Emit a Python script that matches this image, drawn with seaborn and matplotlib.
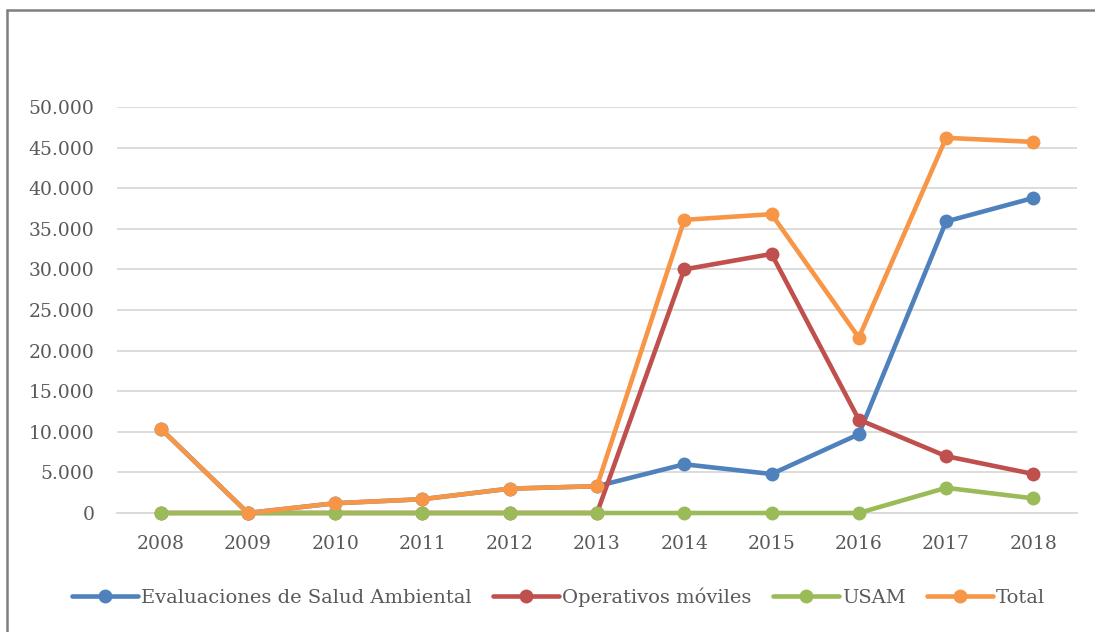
import pandas as pd
import numpy as np
import matplotlib
matplotlib.use("Agg")
import matplotlib.pyplot as plt
import seaborn as sns
from matplotlib.lines import Line2D
from matplotlib.ticker import FuncFormatter

# data
years = ['2008', '2009', '2010', '2011', '2012', '2013',
         '2014', '2015', '2016', '2017', '2018']
evaluaciones = [10400, 0, 1200, 1700, 3000, 3300, 6000, 4800, 9700, 35900, 38800]
operativos = [0, 0, 0, 0, 0, 0, 30000, 31900, 11500, 7000, 4800]
usam = [0, 0, 0, 0, 0, 0, 0, 0, 0, 3100, 1800]
total = [10400, 0, 1200, 1700, 3000, 3300, 36100, 36800, 21600, 46200, 45700]

series_names = ['Evaluaciones de Salud Ambiental', 'Operativos móviles', 'USAM', 'Total']
colors = ['#4F81BD', '#C0504D', '#9BBB59', '#F79646']

df = pd.DataFrame({'year': years,
                   series_names[0]: evaluaciones,
                   series_names[1]: operativos,
                   series_names[2]: usam,
                   series_names[3]: total})
dfm = df.melt('year', var_name='serie', value_name='valor')

sns.set_theme(style="white")
plt.rcParams['font.family'] = ['DejaVu Serif']
text_col = '#595959'

fig = plt.figure(figsize=(10.95, 6.32), dpi=100)
ax = fig.add_axes([0.1068, 0.1883, 0.8768, 0.6424])

sns.lineplot(data=dfm, x='year', y='valor', hue='serie',
             hue_order=series_names, palette=colors,
             marker='o', markersize=10, markeredgewidth=0,
             linewidth=3.3, ax=ax, sort=False)
for ln in ax.get_lines():
    ln.set_clip_on(False)
    ln.set_zorder(4)

ax.set_xlim(-0.5, len(years) - 0.5)
ax.set_ylim(0, 50000)
ax.set_yticks(np.arange(0, 50001, 5000))
ax.yaxis.set_major_formatter(FuncFormatter(lambda v, p: f'{int(v):,}'.replace(',', '.')))
ax.grid(axis='y', color='#d9d9d9', linewidth=1.3)
ax.grid(axis='x', visible=False)
ax.set_axisbelow(True)
for s in ['top', 'right', 'left']:
    ax.spines[s].set_visible(False)
ax.spines['bottom'].set_color('#d9d9d9')
ax.spines['bottom'].set_linewidth(1.3)
ax.spines['bottom'].set_zorder(1)
ax.tick_params(axis='both', length=0, labelsize=13.5, labelcolor=text_col)
ax.tick_params(axis='y', pad=16)
ax.tick_params(axis='x', pad=16)
ax.set_xlabel('')
ax.set_ylabel('')

handles, labels = ax.get_legend_handles_labels()
ax.legend(handles, labels, loc='center', bbox_to_anchor=(0.51, 0.055),
          bbox_transform=fig.transFigure, ncol=4, frameon=False,
          fontsize=14, labelcolor=text_col, handlelength=3.4,
          handletextpad=0.15, columnspacing=1.1)

# chart frame (top and left edges visible in the reference)
fig.add_artist(Line2D([0.0064, 0.0064], [0, 0.984], color='#7f7f7f', linewidth=1.8,
                      transform=fig.transFigure))
fig.add_artist(Line2D([0.0064, 1], [0.984, 0.984], color='#7f7f7f', linewidth=1.8,
                      transform=fig.transFigure))

fig.savefig('out.png', dpi=100)
